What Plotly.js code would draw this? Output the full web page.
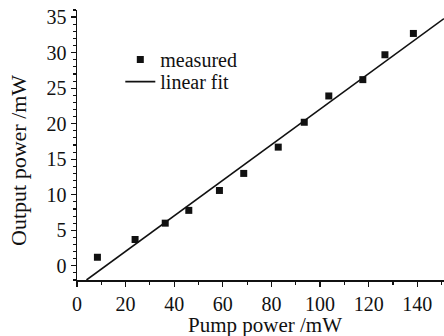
<!DOCTYPE html>
<html>
<head>
<meta charset="utf-8">
<script src="https://cdn.plot.ly/plotly-3.0.1.min.js"></script>
<style>html,body{margin:0;padding:0;background:#fff}#chart{width:444px;height:336px}</style>
</head>
<body>
<div id="chart"></div>
<script>
const pumpPower = [8.4, 23.9, 36.3, 46.0, 58.6, 68.6, 82.8, 93.5, 103.6, 117.6, 126.7, 138.4];
const outputPower = [1.2, 3.7, 6.0, 7.8, 10.6, 13.0, 16.7, 20.2, 23.9, 26.2, 29.7, 32.7];
// linear fit endpoints
const fitX = [3.9, 151];
const fitY = [-2.0, 34.8];
const xTickVals = [0, 20, 40, 60, 80, 100, 120, 140];
const yTickVals = [0, 5, 10, 15, 20, 25, 30, 35];

const FONT = "Liberation Serif";

const traces = [
  {x: pumpPower, y: outputPower, mode: 'markers', type: 'scatter', name: 'measured',
   legend: 'legend', marker: {symbol: 'square', size: 7, color: '#111'}},
  {x: fitX, y: fitY, mode: 'lines', type: 'scatter', name: 'linear fit',
   legend: 'legend2', line: {color: '#111', width: 1.6}}
];

const axisCommon = {
  showgrid: false, zeroline: false, showline: true, linecolor: '#111', linewidth: 1.5,
  ticks: 'outside', ticklen: 5, tickwidth: 1.3, tickcolor: '#111',
  tickfont: {family: FONT, size: 20, color: '#111'}
};
const legendCommon = {xanchor: 'left', yanchor: 'top', bgcolor: 'rgba(0,0,0,0)',
  font: {family: FONT, size: 20, color: '#111'}};

const layout = {
  width: 444, height: 336,
  margin: {l: 77, r: 0, t: 10, b: 56},
  paper_bgcolor: '#fff', plot_bgcolor: '#fff',
  font: {family: FONT, color: '#111'},
  xaxis: Object.assign({}, axisCommon, {
    range: [0, 151], tickvals: xTickVals, ticktext: xTickVals.map(String),
    minor: {dtick: 10, tick0: 0, ticks: 'outside', ticklen: 3, tickwidth: 1.1, tickcolor: '#111'}
  }),
  yaxis: Object.assign({}, axisCommon, {
    range: [-2, 36], tickvals: yTickVals, ticktext: yTickVals.map(String),
    minor: {dtick: 1, tick0: 0, ticks: 'outside', ticklen: 3, tickwidth: 1.1, tickcolor: '#111'}
  }),
  showlegend: true,
  legend: Object.assign({x: 0.118, y: 0.889}, legendCommon),
  legend2: Object.assign({x: 0.118, y: 0.807}, legendCommon),
  annotations: [
    {text: 'Output power /mW', xref: 'paper', yref: 'paper', x: -0.158, y: 0.441,
     textangle: -90, showarrow: false, xanchor: 'center', yanchor: 'middle',
     font: {family: FONT, size: 22, color: '#111'}},
    {text: 'Pump power /mW', xref: 'paper', yref: 'paper', x: 0.512, y: -0.165,
     showarrow: false, xanchor: 'center', yanchor: 'middle',
     font: {family: FONT, size: 21, color: '#111'}}
  ]
};

Plotly.newPlot('chart', traces, layout, {staticPlot: true, displayModeBar: false});
</script>
</body>
</html>
